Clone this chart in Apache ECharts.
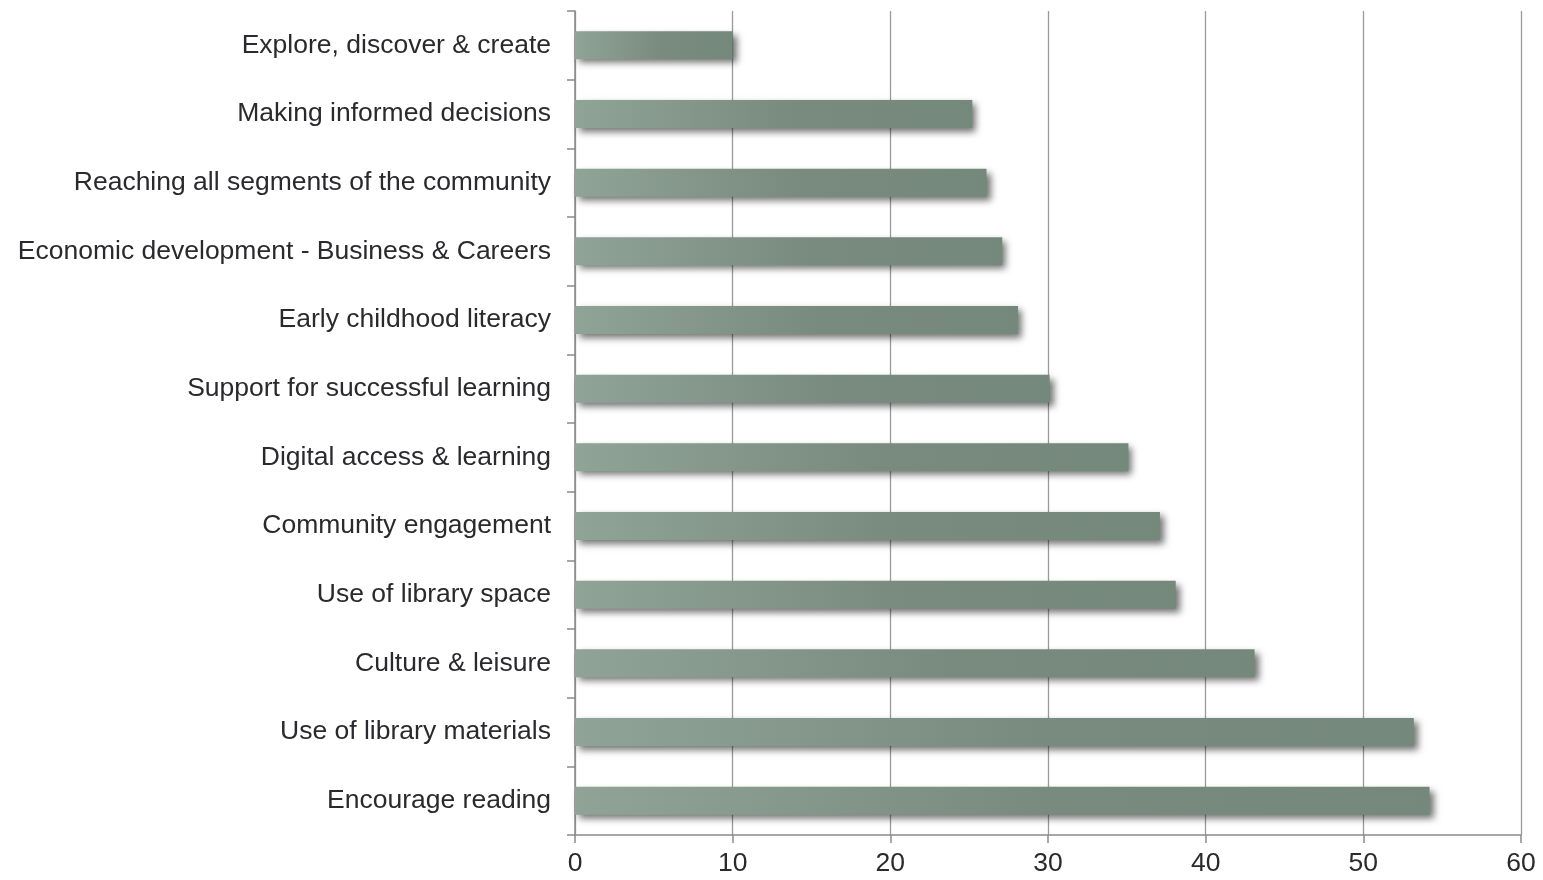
<!DOCTYPE html>
<html>
<head>
<meta charset="utf-8">
<script src="https://cdn.jsdelivr.net/npm/echarts@6/dist/echarts.min.js"></script>
<style>
  html, body { margin: 0; padding: 0; background: #ffffff; }
  #chart { width: 1543px; height: 880px; }
</style>
</head>
<body>
<div id="chart"></div>
<script>
// Library priorities, listed top to bottom
const categories = [
  'Explore, discover & create',
  'Making informed decisions',
  'Reaching all segments of the community',
  'Economic development - Business & Careers',
  'Early childhood literacy',
  'Support for successful learning',
  'Digital access & learning',
  'Community engagement',
  'Use of library space',
  'Culture & leisure',
  'Use of library materials',
  'Encourage reading'
];
const values = [10, 25.2, 26.1, 27.1, 28.1, 30.1, 35.1, 37.1, 38.1, 43.1, 53.2, 54.2];
const xTicks = { min: 0, max: 60, interval: 10 };

const FONT = '"Liberation Sans", Arial, sans-serif';
const TEXT = '#2a2a2e';
const AXIS = '#8a8a8a';

const chart = echarts.init(document.getElementById('chart'), null, { renderer: 'canvas' });
chart.setOption({
  animation: false,
  grid: { left: 575, right: 22, top: 11, bottom: 45, containLabel: false },
  xAxis: {
    type: 'value',
    min: xTicks.min,
    max: xTicks.max,
    interval: xTicks.interval,
    axisLine: { show: true, lineStyle: { color: AXIS, width: 1.5 } },
    axisTick: { show: true, length: 8, lineStyle: { color: AXIS, width: 1.5 } },
    axisLabel: { margin: 15, fontSize: 26.5, fontFamily: FONT, color: TEXT },
    splitLine: { show: true, lineStyle: { color: '#9a9a9a', width: 1.3 } }
  },
  yAxis: {
    type: 'category',
    inverse: true,
    data: categories,
    axisLine: { show: true, lineStyle: { color: AXIS, width: 1.5 } },
    axisTick: { show: true, length: 8, lineStyle: { color: AXIS, width: 1.5 } },
    axisLabel: { margin: 24, fontSize: 26.5, fontFamily: FONT, color: TEXT, padding: [2, 0, 0, 0] },
    splitLine: { show: false }
  },
  series: [{
    type: 'bar',
    data: values,
    barWidth: 28,
    itemStyle: {
      color: new echarts.graphic.LinearGradient(0, 0, 1, 0, [
        { offset: 0, color: '#90a397' },
        { offset: 0.55, color: '#788b7e' },
        { offset: 1, color: '#74887b' }
      ]),
      shadowColor: 'rgba(0,0,0,0.55)',
      shadowBlur: 7,
      shadowOffsetX: 4,
      shadowOffsetY: 4
    }
  }]
});
</script>
</body>
</html>
